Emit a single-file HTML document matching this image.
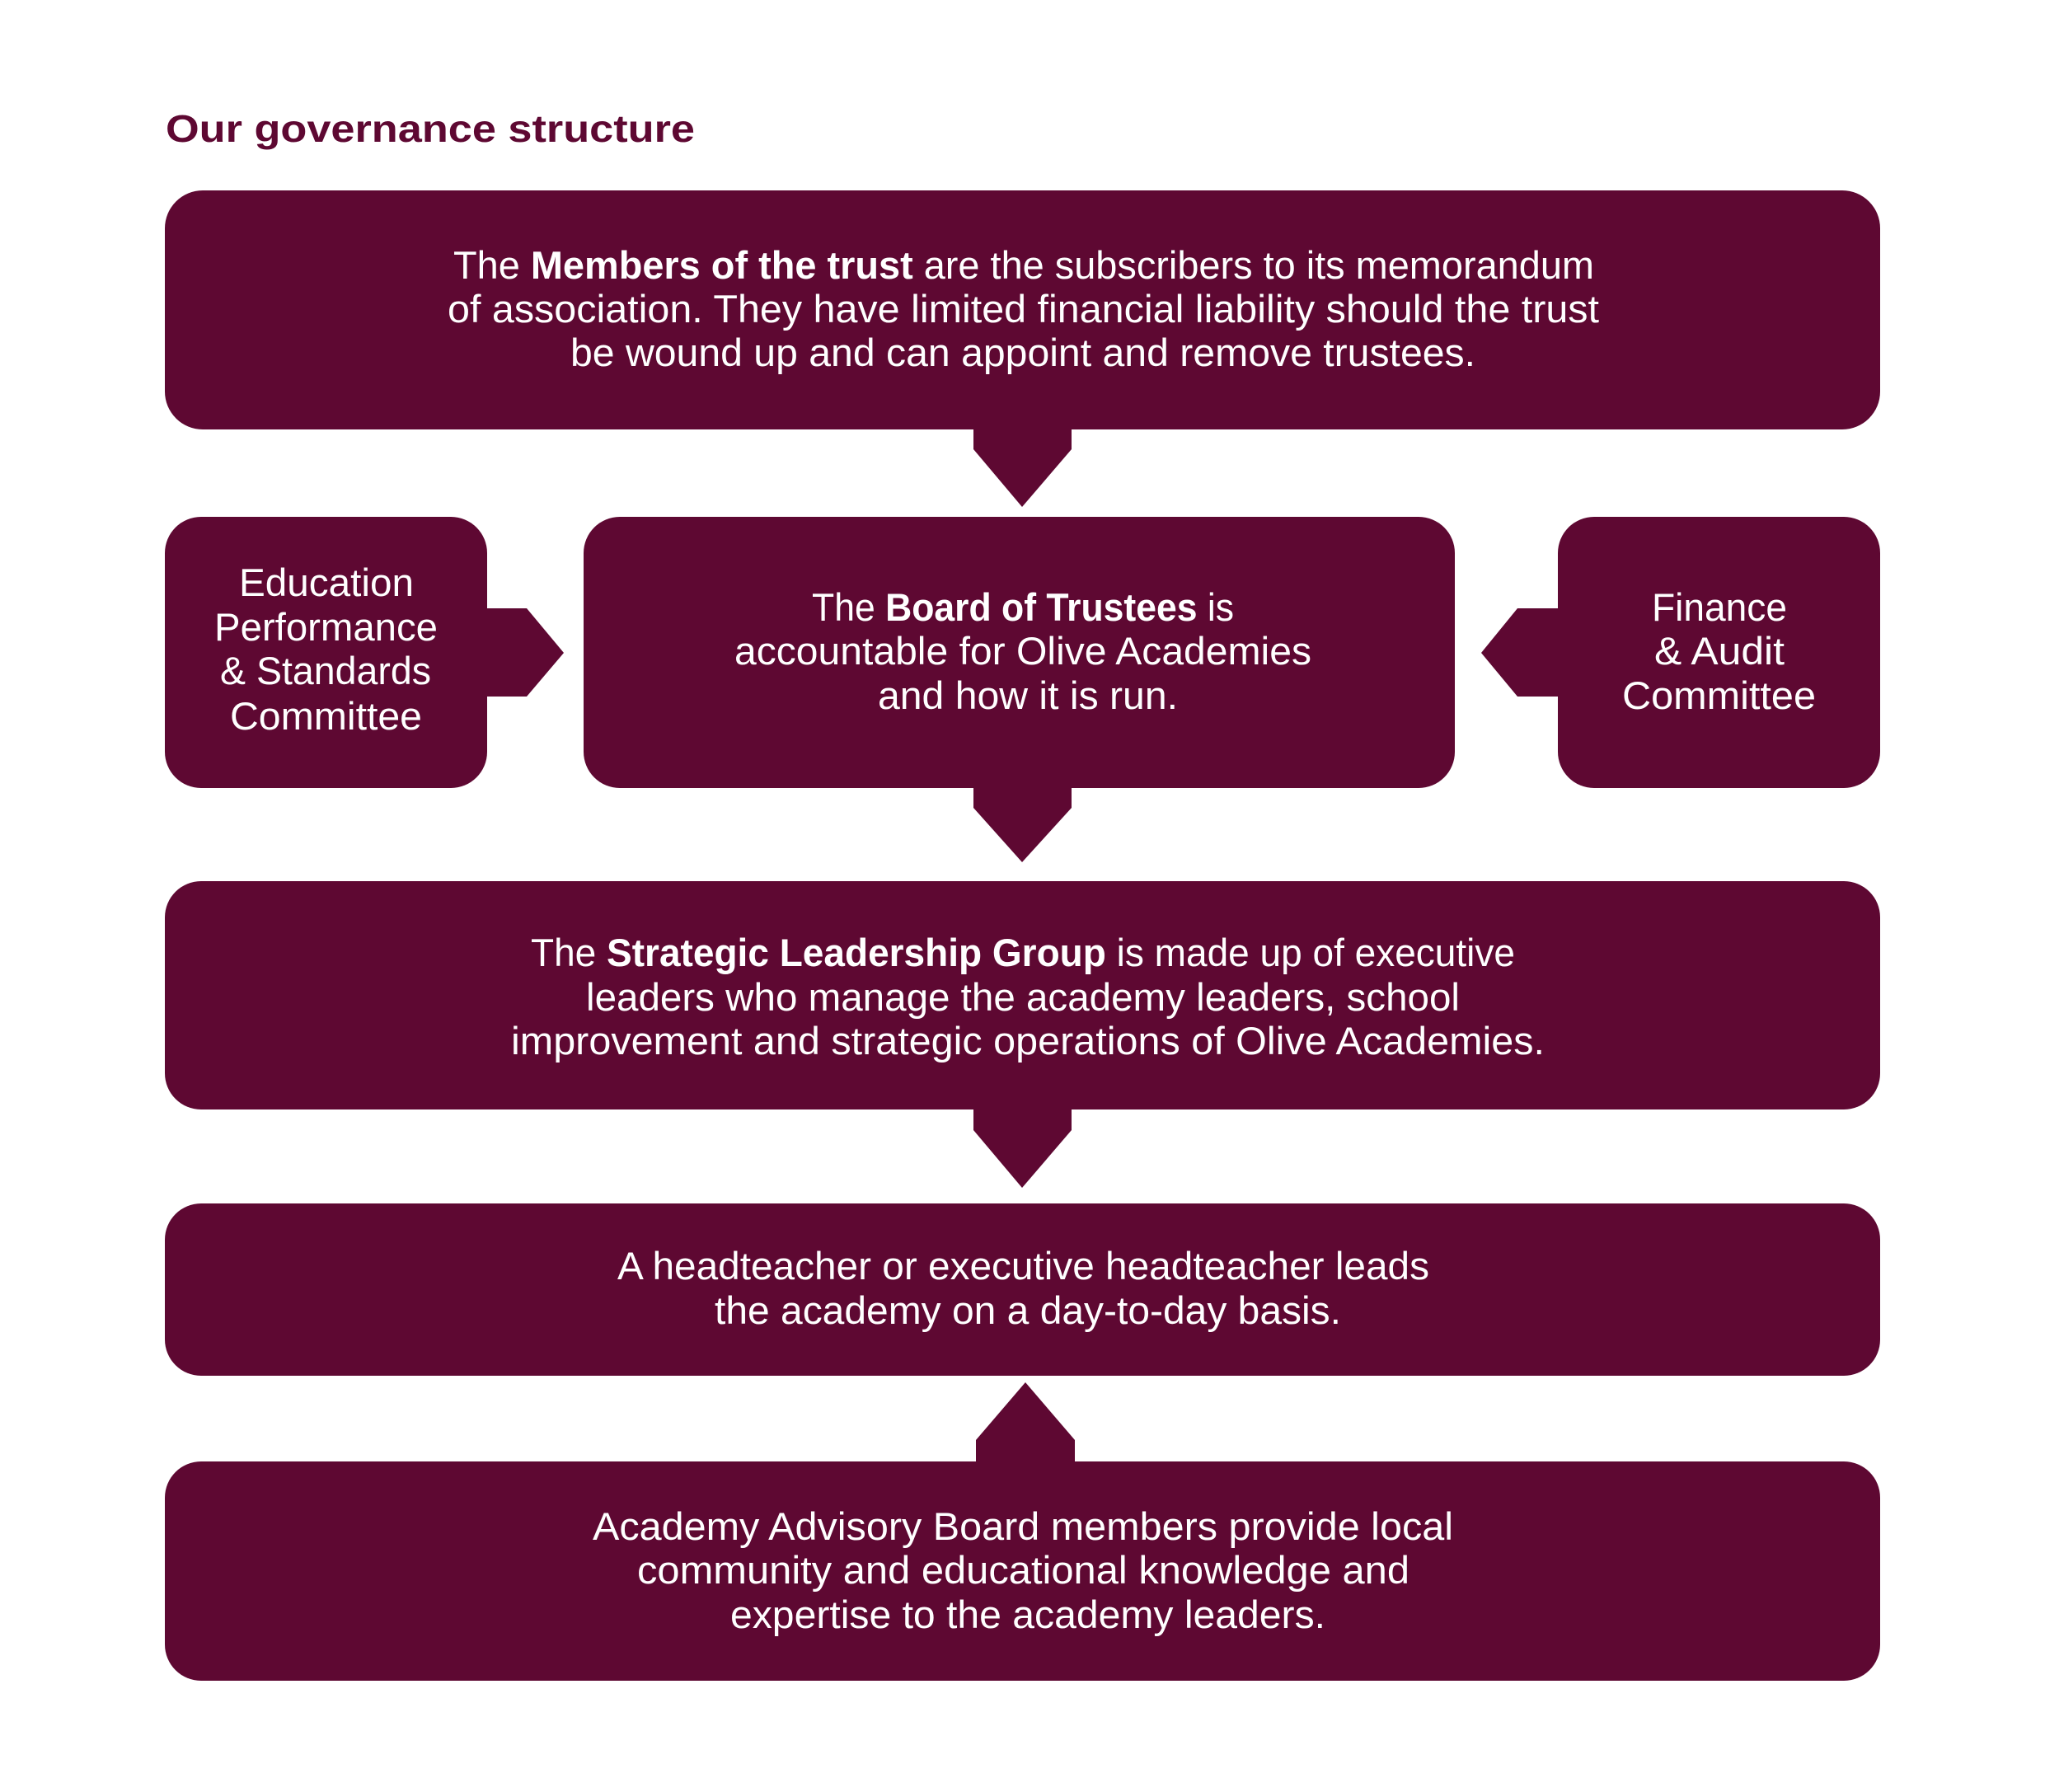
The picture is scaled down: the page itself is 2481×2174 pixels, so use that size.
<!DOCTYPE html>
<html><head><meta charset="utf-8"><style>
html,body{margin:0;padding:0;background:#fff;}
svg{display:block;}
text{font-family:"Liberation Sans",Arial,sans-serif;fill:#fff;font-size:47px;}
</style></head><body>
<svg width="2481" height="2174" viewBox="0 0 2481 2174" xmlns="http://www.w3.org/2000/svg">
<g fill="#5e0832">
<rect x="200" y="231" width="2081" height="290" rx="46"/>
<polygon points="1181,520 1300,520 1300,545 1240,615 1181,545"/>
<rect x="200" y="627" width="391" height="329" rx="44"/>
<polygon points="590,738 639,738 684,792 639,845 590,845"/>
<rect x="708" y="627" width="1057" height="329" rx="44"/>
<polygon points="1181,955 1300,955 1300,980 1240,1046 1181,980"/>
<rect x="1890" y="627" width="391" height="329" rx="44"/>
<polygon points="1891,738 1841,738 1797,792 1841,845 1891,845"/>
<rect x="200" y="1069" width="2081" height="277" rx="44"/>
<polygon points="1181,1345 1300,1345 1300,1371 1240,1441 1181,1371"/>
<rect x="200" y="1460" width="2081" height="209" rx="44"/>
<polygon points="1184,1774 1304,1774 1304,1747 1244,1677 1184,1747"/>
<rect x="200" y="1773" width="2081" height="266" rx="44"/>
</g>
<text x="201" y="172" textLength="642" lengthAdjust="spacingAndGlyphs" style="fill:#5e0832;font-weight:bold;font-size:46px">Our governance structure</text>

<text x="550" y="338" textLength="1384" lengthAdjust="spacingAndGlyphs">The <tspan font-weight="bold">Members of the trust</tspan> are the subscribers to its memorandum</text>
<text x="543" y="391" textLength="1397" lengthAdjust="spacingAndGlyphs">of association. They have limited financial liability should the trust</text>
<text x="692" y="444" textLength="1098" lengthAdjust="spacingAndGlyphs">be wound up and can appoint and remove trustees.</text>

<text x="290" y="723" textLength="212" lengthAdjust="spacingAndGlyphs">Education</text>
<text x="260" y="777" textLength="271" lengthAdjust="spacingAndGlyphs">Performance</text>
<text x="267" y="830" textLength="256" lengthAdjust="spacingAndGlyphs">&amp; Standards</text>
<text x="279" y="885" textLength="233" lengthAdjust="spacingAndGlyphs">Committee</text>

<text x="985" y="753" textLength="512" lengthAdjust="spacingAndGlyphs">The <tspan font-weight="bold">Board of Trustees</tspan> is</text>
<text x="891" y="806" textLength="700" lengthAdjust="spacingAndGlyphs">accountable for Olive Academies</text>
<text x="1065" y="860" textLength="364" lengthAdjust="spacingAndGlyphs">and how it is run.</text>

<text x="2004" y="753" textLength="164" lengthAdjust="spacingAndGlyphs">Finance</text>
<text x="2007" y="806" textLength="158" lengthAdjust="spacingAndGlyphs">&amp; Audit</text>
<text x="1968" y="860" textLength="235" lengthAdjust="spacingAndGlyphs">Committee</text>

<text x="644" y="1172" textLength="1194" lengthAdjust="spacingAndGlyphs">The <tspan font-weight="bold">Strategic Leadership Group</tspan> is made up of executive</text>
<text x="711" y="1226" textLength="1060" lengthAdjust="spacingAndGlyphs">leaders who manage the academy leaders, school</text>
<text x="620" y="1279" textLength="1254" lengthAdjust="spacingAndGlyphs">improvement and strategic operations of Olive Academies.</text>

<text x="749" y="1552" textLength="985" lengthAdjust="spacingAndGlyphs">A headteacher or executive headteacher leads</text>
<text x="867" y="1606" textLength="760" lengthAdjust="spacingAndGlyphs">the academy on a day-to-day basis.</text>

<text x="719" y="1868" textLength="1044" lengthAdjust="spacingAndGlyphs">Academy Advisory Board members provide local</text>
<text x="773" y="1921" textLength="937" lengthAdjust="spacingAndGlyphs">community and educational knowledge and</text>
<text x="886" y="1975" textLength="722" lengthAdjust="spacingAndGlyphs">expertise to the academy leaders.</text>
</svg>
</body></html>
